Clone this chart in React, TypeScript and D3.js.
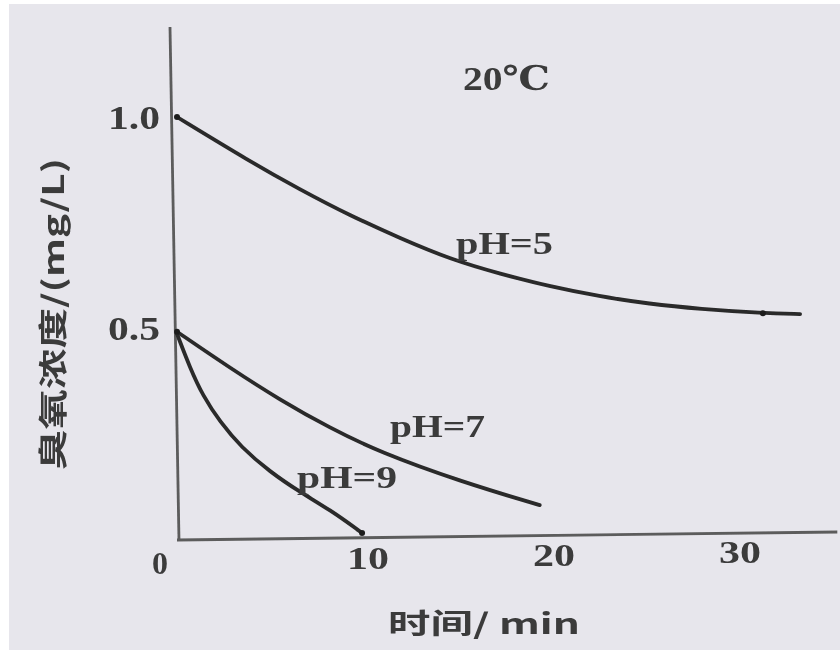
import React from 'react';
import * as d3 from 'd3';

// values: time (min) vs ozone concentration (mg/L)
const timePH5 = [0, 3.9, 6.6, 9.3, 12, 14.7, 17.4, 20, 22.7, 25.4, 28.1, 31.5, 33.5];
const concPH5 = [1.0, 0.895, 0.828, 0.766, 0.712, 0.662, 0.627, 0.598, 0.574, 0.556, 0.544, 0.534, 0.532];
const timePH7 = [0, 2.85, 5.54, 8.23, 10.9, 15.2, 19.5];
const concPH7 = [0.49, 0.404, 0.328, 0.261, 0.204, 0.135, 0.078];
const timePH9 = [0, 0.7, 1.4, 2.31, 3.44, 5.0, 6.61, 8.23, 9.95];
const concPH9 = [0.485, 0.404, 0.337, 0.276, 0.216, 0.157, 0.109, 0.067, 0.012];
const xTicks = [10, 20, 30];
const yTicks = [0.5, 1.0];
const yTickLabels = ['0.5', '1.0'];

const W = 840;
const H = 651;

export default function App() {
  const x = d3.scaleLinear().domain([0, 10]).range([177, 363]);
  const y = d3.scaleLinear().domain([0, 1]).range([538, 117]);

  const line = d3
    .line<[number, number]>()
    .x(d => x(d[0]))
    .y(d => y(d[1]))
    .curve(d3.curveBasis);

  const series = [
    { t: timePH5, c: concPH5 },
    { t: timePH7, c: concPH7 },
    { t: timePH9, c: concPH9 }
  ];
  const paths = series.map((s, i) => {
    const pts = s.t.map((t, j) => [t, s.c[j]] as [number, number]);
    return <path key={i} d={line(pts) || ''} fill="none" stroke="#2a2a2a" strokeWidth={3.8} strokeLinecap="round" />;
  });

  const dots: [number, number][] = [
    [timePH5[0], concPH5[0]],
    [timePH5[11], concPH5[11]],
    [timePH7[0], concPH7[0]],
    [timePH9[timePH9.length - 1], concPH9[concPH9.length - 1]]
  ];

  const serif = '"Liberation Serif", "DejaVu Serif", serif';
  const cjk = '"Noto Sans CJK SC", sans-serif';
  const txt = '#3b3b3b';

  return (
    <svg width={W} height={H} style={{ position: 'absolute', left: 0, top: 0 }}>
      <defs>
        <filter id="scan" x="-5%" y="-5%" width="110%" height="110%">
          <feGaussianBlur stdDeviation="0.7" />
        </filter>
      </defs>
      <rect width={W} height={H} fill="#ffffff" />
      <rect x={9} y={4} width={W - 9} height={H - 5} fill="#e7e6ec" />
      <g filter="url(#scan)">
        {/* axes */}
        <path d={`M${x(0) - 7},27 L${x(0) + 2},${y(0) + 3}`} stroke="#5c5c5c" strokeWidth={2.8} fill="none" />
        <path d={`M${x(0)},${y(0) + 2} L${x(35.5)},${y(0) - 6}`} stroke="#5c5c5c" strokeWidth={2.8} fill="none" />

        {paths}
        {dots.map((d, i) => (
          <circle key={i} cx={x(d[0])} cy={y(d[1])} r={3} fill="#1e1e1e" />
        ))}

        {/* tick labels */}
        {yTicks.map((v, i) => (
          <text key={i} x={108} y={y(v) + 12} fontFamily={serif} fontWeight="bold" fontSize={33} fill={txt} textLength={52} lengthAdjust="spacingAndGlyphs">
            {yTickLabels[i]}
          </text>
        ))}
        <text x={160} y={574} textAnchor="middle" fontFamily={serif} fontWeight="bold" fontSize={32} fill={txt}>
          0
        </text>
        {xTicks.map((v, i) => (
          <text key={i} x={x(v) + 5} y={569 - i * 3} textAnchor="middle" fontFamily={serif} fontWeight="bold" fontSize={32} fill={txt} textLength={42} lengthAdjust="spacingAndGlyphs">
            {v}
          </text>
        ))}

        {/* annotations */}
        <text x={463} y={90} fontFamily={serif} fontWeight="bold" fontSize={34} fill={txt} textLength={87} lengthAdjust="spacingAndGlyphs">
          20℃
        </text>
        <text x={456} y={254} fontFamily={serif} fontWeight="bold" fontSize={32} fill={txt} textLength={97} lengthAdjust="spacingAndGlyphs">
          pH=5
        </text>
        <text x={390} y={437} fontFamily={serif} fontWeight="bold" fontSize={32} fill={txt} textLength={95} lengthAdjust="spacingAndGlyphs">
          pH=7
        </text>
        <text x={297} y={488} fontFamily={serif} fontWeight="bold" fontSize={32} fill={txt} textLength={100} lengthAdjust="spacingAndGlyphs">
          pH=9
        </text>

        {/* axis titles */}
        <text x={388} y={634} fontFamily={cjk} fontWeight="bold" fontSize={28} fill={txt} textLength={192} lengthAdjust="spacingAndGlyphs">
          时间/ min
        </text>
        <text
          transform="translate(64,314) rotate(-90)"
          textAnchor="middle"
          fontFamily={cjk}
          fontWeight="bold"
          fontSize={29}
          fill={txt}
          textLength={312}
          lengthAdjust="spacingAndGlyphs"
        >
          臭氧浓度/(mg/L)
        </text>
      </g>
    </svg>
  );
}
